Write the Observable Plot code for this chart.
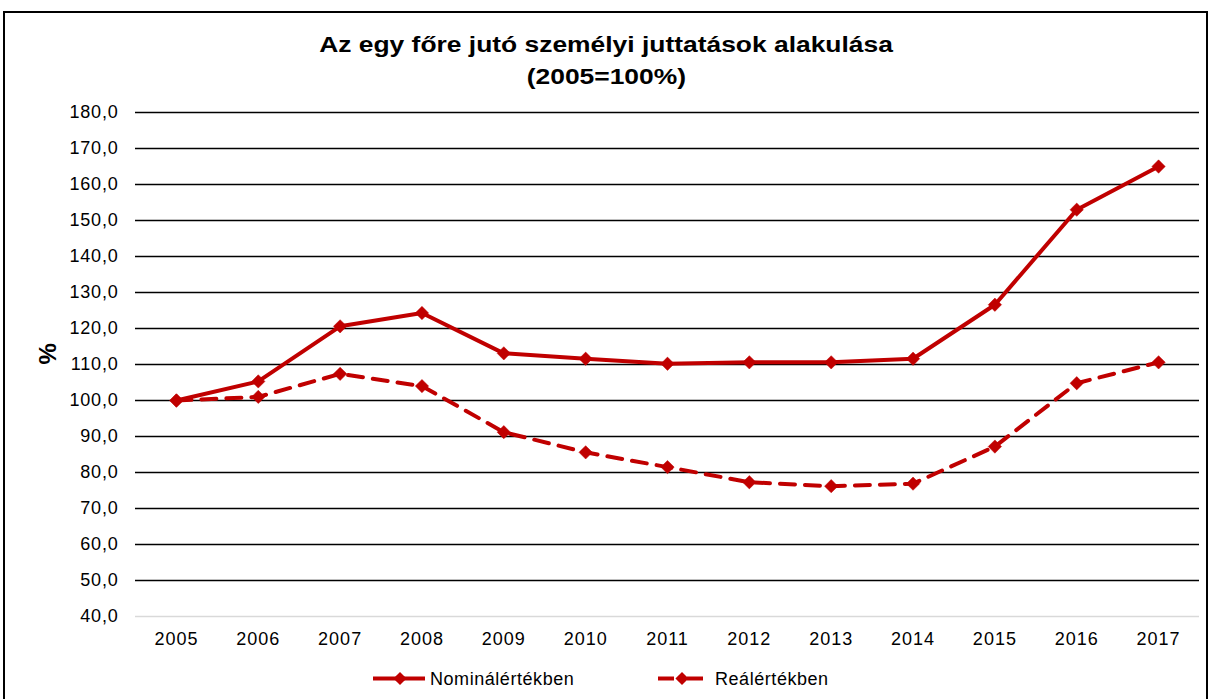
<!DOCTYPE html>
<html>
<head>
<meta charset="utf-8">
<script src="https://cdn.jsdelivr.net/npm/d3@7"></script>
<script src="https://cdn.jsdelivr.net/npm/@observablehq/plot@0.6"></script>
<style>
  body { margin: 0; background: #fff; font-family: "Liberation Sans", Arial, sans-serif; }
  #frame { position: absolute; left: 3px; top: 11px; width: 1205px; height: 740px; border: 2px solid #000; box-sizing: border-box; }
  #title { position: absolute; left: 4px; top: 29px; width: 1204px; text-align: center; font-weight: bold; font-size: 22px; line-height: 32px; color: #000; }
  #title span { display: inline-block; transform: scaleX(1.2); transform-origin: center; }
  #chart { position: absolute; left: 0; top: 90px; }
  #legend { position: absolute; left: 0; top: 664px; }
</style>
</head>
<body>
<div id="frame"></div>
<div id="title"><span>Az egy főre jutó személyi juttatások alakulása</span><br><span>(2005=100%)</span></div>
<div id="chart"></div>
<div id="legend"></div>
<script>
const years = [2005, 2006, 2007, 2008, 2009, 2010, 2011, 2012, 2013, 2014, 2015, 2016, 2017];
const nominal = [100.0, 105.3, 120.6, 124.3, 113.1, 111.6, 110.2, 110.6, 110.6, 111.6, 126.6, 153.0, 165.0];
const real = [100.0, 101.0, 107.4, 104.0, 91.2, 85.6, 81.5, 77.3, 76.2, 76.9, 87.2, 104.8, 110.6];
const yTicks = [40, 50, 60, 70, 80, 90, 100, 110, 120, 130, 140, 150, 160, 170, 180];
const seriesNames = ["Nominálértékben", "Reálértékben"];
const yLabel = "%";

const red = "#C00000";
const nomData = years.map((y, i) => ({year: y, value: nominal[i]}));
const realData = years.map((y, i) => ({year: y, value: real[i]}));

const chart = Plot.plot({
  width: 1210,
  height: 570,
  marginLeft: 135,
  marginRight: 11,
  marginTop: 22,
  marginBottom: 44,
  style: {fontFamily: "'Liberation Sans', Arial, sans-serif", fontSize: "18px", color: "#000", background: "transparent", overflow: "visible"},
  x: {type: "point", domain: years, padding: 0.5, round: false},
  y: {domain: [40, 180]},
  marks: [
    Plot.ruleY(yTicks.filter(d => d > 40), {stroke: "#000", strokeWidth: 1.4}),
    Plot.ruleY([40], {stroke: "#d9d9d9", strokeWidth: 1.4}),
    Plot.axisY({ticks: yTicks, tickFormat: d => d.toFixed(1).replace(".", ","), tickSize: 0, tickPadding: 17, label: null, fontSize: 18, className: "yax"}),
    Plot.axisX({tickSize: 0, tickPadding: 16, label: null, tickFormat: d => String(d), fontSize: 18, className: "xax"}),
    Plot.text([yLabel], {frameAnchor: "left", dx: -87, rotate: -90, fontWeight: "bold", fontSize: 24, fill: "#000"}),
    Plot.line(realData, {x: "year", y: "value", stroke: red, strokeWidth: 4, strokeDasharray: "15,10", strokeLinejoin: "round"}),
    Plot.dot(realData, {x: "year", y: "value", symbol: "diamond2", r: 6, fill: red, stroke: red, strokeWidth: 0.5}),
    Plot.line(nomData, {x: "year", y: "value", stroke: red, strokeWidth: 4, strokeLinejoin: "round"}),
    Plot.dot(nomData, {x: "year", y: "value", symbol: "diamond2", r: 6, fill: red, stroke: red, strokeWidth: 0.5})
  ]
});
chart.querySelectorAll(".yax text").forEach(t => t.style.letterSpacing = "0.8px");
chart.querySelectorAll(".xax text").forEach(t => t.style.letterSpacing = "1px");
document.getElementById("chart").appendChild(chart);

// Legend
const lg = d3.select("#legend").append("svg").attr("width", 1210).attr("height", 30)
  .style("font-family", "'Liberation Sans', Arial, sans-serif").style("font-size", "18px");
const diamond = d3.symbol(d3.symbolDiamond2, 110)();
const ly = 14.5;
const items = [
  {name: seriesNames[0], x0: 373, x1: 425, cx: 400, dashed: false, tx: 430},
  {name: seriesNames[1], x0: 658, x1: 703, cx: 682, dashed: true, tx: 715}
];
items.forEach(it => {
  const g = lg.append("g");
  if (it.dashed) {
    g.append("line").attr("x1", it.x0).attr("x2", it.x0 + 16).attr("y1", ly).attr("y2", ly).attr("stroke", red).attr("stroke-width", 4);
    g.append("line").attr("x1", it.x1 - 16).attr("x2", it.x1).attr("y1", ly).attr("y2", ly).attr("stroke", red).attr("stroke-width", 4);
  } else {
    g.append("line").attr("x1", it.x0).attr("x2", it.x1).attr("y1", ly).attr("y2", ly).attr("stroke", red).attr("stroke-width", 4);
  }
  g.append("path").attr("d", diamond).attr("transform", `translate(${it.cx},${ly})`).attr("fill", red);
  g.append("text").attr("x", it.tx).attr("y", ly).attr("dy", "0.35em").attr("fill", "#000").style("letter-spacing", "0.55px").text(it.name);
});
</script>
</body>
</html>
